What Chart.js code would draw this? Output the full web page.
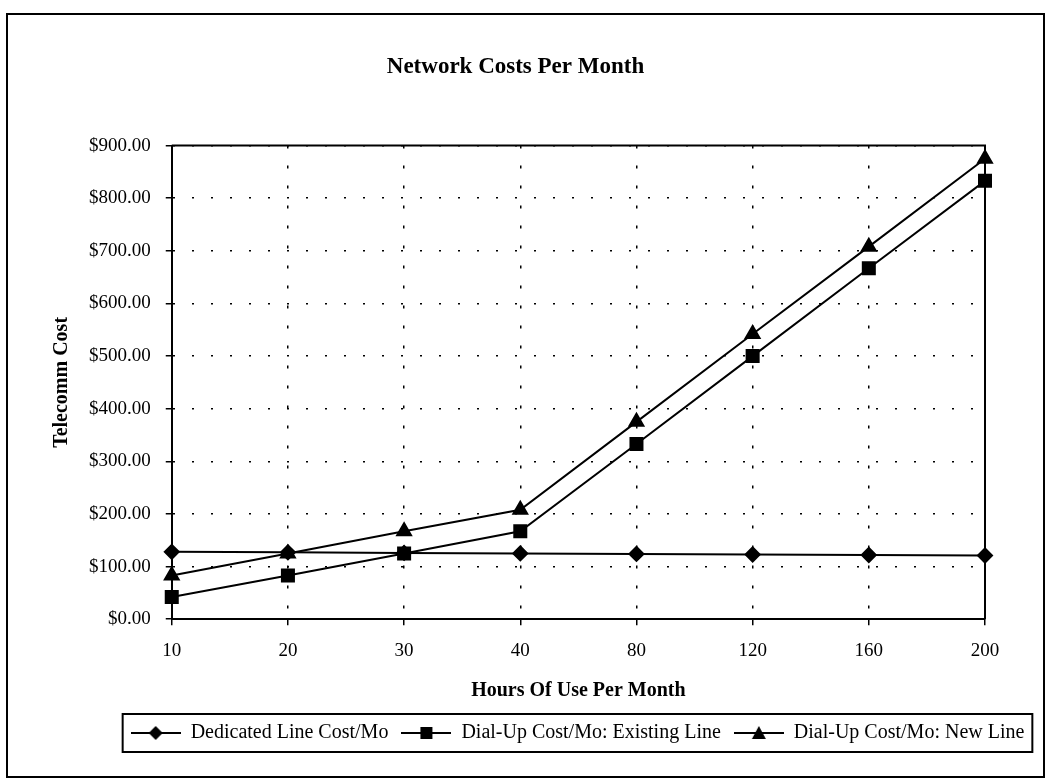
<!DOCTYPE html>
<html>
<head>
<meta charset="utf-8">
<script src="https://cdn.jsdelivr.net/npm/chart.js@4/dist/chart.umd.min.js"></script>
<style>
  body { margin: 0; background: #fff; }
  #wrap { width: 1048px; height: 782px; position: relative; }
</style>
</head>
<body>
<div id="wrap"><canvas id="chart" width="1048" height="782"></canvas></div>
<script>
const hours = ['10', '20', '30', '40', '80', '120', '160', '200']
const dedicated = [128, 127, 126, 125, 124, 123, 122, 121]
const dialExisting = [42, 83, 125, 167, 333, 500, 667, 833]
const dialNew = [83, 125, 167, 208, 375, 542, 708, 875]
const seriesNames = ['Dedicated Line Cost/Mo', 'Dial-Up Cost/Mo: Existing Line', 'Dial-Up Cost/Mo: New Line']

const serif = "'Liberation Serif', 'DejaVu Serif', serif"

// little line + marker picture for the legend
function legendIcon(style) {
    const c = document.createElement('canvas')
    c.width = 50
    c.height = 16
    const g = c.getContext('2d')
    g.strokeStyle = '#000'
    g.fillStyle = '#000'
    g.lineWidth = 2
    g.beginPath()
    g.moveTo(0, 8)
    g.lineTo(50, 8)
    g.stroke()
    g.beginPath()
    if (style === 'rectRot') {
        g.moveTo(25, 1); g.lineTo(32, 8); g.lineTo(25, 15); g.lineTo(18, 8)
    } else if (style === 'rect') {
        g.rect(19, 2, 12, 12)
    } else {
        g.moveTo(25, 1); g.lineTo(32, 14); g.lineTo(18, 14)
    }
    g.closePath()
    g.fill()
    return c
}

const legendShift = 62

const frame = {
    id: 'frame',
    afterUpdate(chart) {
        // legend sits to the right of centre in the original
        const lg = chart.legend
        lg.left += legendShift
        lg.right += legendShift
        for (const b of lg.legendHitBoxes) b.left += legendShift
    },
    beforeDraw(chart) {
        const ctx = chart.ctx
        ctx.save()
        ctx.strokeStyle = '#000'
        ctx.lineWidth = 2
        ctx.strokeRect(7, 14, 1037, 763)
        ctx.restore()
    },
    beforeDatasetsDraw(chart) {
        const a = chart.chartArea
        const ctx = chart.ctx
        ctx.save()
        ctx.strokeStyle = '#000'
        ctx.lineWidth = 2
        ctx.beginPath()
        ctx.moveTo(a.left, a.top)
        ctx.lineTo(a.right, a.top)
        ctx.lineTo(a.right, a.bottom)
        ctx.stroke()
        ctx.restore()
    },
    afterDraw(chart) {
        const boxes = chart.legend.legendHitBoxes
        if (!boxes || !boxes.length) return
        const l = Math.min(...boxes.map(b => b.left)) - 8
        const r = Math.max(...boxes.map(b => b.left + b.width)) + 8
        const t = boxes[0].top - 9
        const h = boxes[0].height + 18
        const ctx = chart.ctx
        ctx.save()
        ctx.strokeStyle = '#000'
        ctx.lineWidth = 2
        ctx.strokeRect(l, t, r - l, h)
        ctx.restore()
    }
}

const styles = ['rectRot', 'rect', 'triangle']
const sizes = [7, 8.5, 8]

const ctx = document.getElementById('chart').getContext('2d')
const chart = new Chart(ctx, {
    type: 'line',
    data: {
        labels: hours,
        datasets: [dedicated, dialExisting, dialNew].map((d, i) => ({
            label: seriesNames[i],
            data: d,
            borderColor: '#000',
            backgroundColor: '#000',
            borderWidth: 2,
            pointStyle: styles[i],
            pointRadius: sizes[i],
            pointBackgroundColor: '#000',
            pointBorderColor: '#000',
            tension: 0
        }))
    },
    options: {
        responsive: false,
        animation: false,
        layout: { padding: { left: 46, right: 63, top: 13, bottom: 29 } },
        plugins: {
            title: {
                display: true,
                text: 'Network Costs Per Month',
                color: '#000',
                font: { family: serif, size: 23, weight: 'bold' },
                padding: { top: 40, bottom: 65 }
            },
            legend: {
                position: 'bottom',
                labels: {
                    color: '#000',
                    font: { family: serif, size: 20 },
                    usePointStyle: true,
                    pointStyleWidth: 50,
                    padding: 13,
                    generateLabels: ch => ch.data.datasets.map((ds, i) => ({
                        text: ds.label,
                        pointStyle: legendIcon(styles[i]),
                        fontColor: '#000',
                        datasetIndex: i,
                        lineWidth: 0
                    }))
                }
            },
            tooltip: { enabled: false }
        },
        scales: {
            x: {
                offset: false,
                grid: { color: '#000', lineWidth: 1.5, tickLength: 6, tickColor: '#000' },
                border: { color: '#000', width: 2, dash: [3, 17] },
                ticks: { color: '#000', font: { family: serif, size: 19 }, padding: 14, maxRotation: 0 },
                title: {
                    display: true,
                    text: 'Hours Of Use Per Month',
                    color: '#000',
                    font: { family: serif, size: 20, weight: 'bold' },
                    padding: { top: 3, bottom: 7 }
                }
            },
            y: {
                min: 0,
                max: 900,
                grid: { color: '#000', lineWidth: 1.5, tickLength: 6, tickColor: '#000' },
                border: { color: '#000', width: 2, dash: [2, 17] },
                ticks: {
                    stepSize: 100,
                    color: '#000',
                    font: { family: serif, size: 19 },
                    padding: 15,
                    callback: v => '$' + v.toFixed(2)
                },
                title: {
                    display: true,
                    text: 'Telecomm Cost',
                    color: '#000',
                    font: { family: serif, size: 20, weight: 'bold' },
                    padding: { top: 4, bottom: 0 }
                }
            }
        }
    },
    plugins: [frame]
})
</script>
</body>
</html>
